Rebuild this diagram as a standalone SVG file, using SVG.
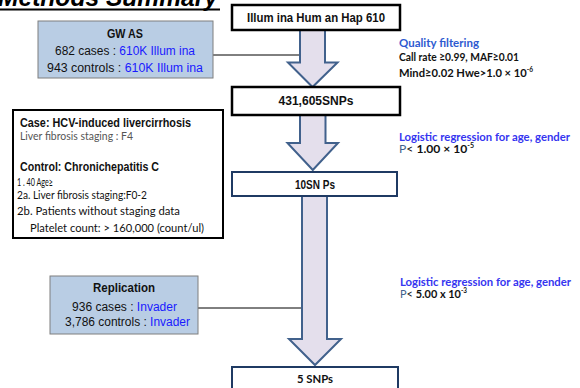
<svg xmlns="http://www.w3.org/2000/svg" width="580" height="388" viewBox="0 0 580 388">
<style>
.nar{font-family:"Liberation Sans Narrow","Liberation Sans",Arial,sans-serif;font-size:12px;fill:#111}
.b{font-weight:bold}
.cal{font-family:Lato,"Open Sans",sans-serif;font-size:12px;fill:#111}
.sup{font-size:7px}
.blue{fill:#1a1aff}
.qblue{fill:#2e5ad0}
.lblue{fill:#3535f0}
.gray{fill:#555}
.arrow{fill:#e4dfec;stroke:#41618c;stroke-width:2}
.bx{fill:#fff;stroke:#000;stroke-width:2.5}
.nbx{fill:#fff;stroke:#1f3a63;stroke-width:2}
.blu{fill:#b9cde4;stroke:#7f7f7f;stroke-width:1}
.ln{stroke:#000;stroke-width:1;fill:none}
</style>
<rect width="580" height="388" fill="#fff"/>
<g id="title">
<text x="-2" y="6" font-family="Liberation Sans,Arial,sans-serif" font-size="26" font-weight="bold" font-style="italic" fill="#000" textLength="220" lengthAdjust="spacingAndGlyphs">Methods Summary</text>
<line x1="0" y1="9.5" x2="220" y2="9.5" stroke="#000" stroke-width="2"/>
</g>
<g id="connectors">
<line class="ln" x1="213" y1="55" x2="301" y2="55"/>
<line class="ln" x1="198" y1="308" x2="302" y2="308"/>
</g>
<g id="arrow1"><path class="arrow" d="M300,30 H325 V62.5 H337.5 L312.5,87 L288,62.5 H300 Z"/></g>
<g id="arrow2"><path class="arrow" d="M300,115 H325.5 V143 H338 L312.8,170 L287.5,143 H300 Z"/></g>
<g id="arrow3"><path class="arrow" d="M302,196 H327 V339 H341 L315,365 L289,339 H302 Z"/></g>
<g id="illumina">
<rect class="bx" x="232" y="5" width="168" height="25"/>
<text class="nar b" x="316" y="22" text-anchor="middle" textLength="138" lengthAdjust="spacingAndGlyphs">Illum ina Hum an Hap 610</text>
</g>
<g id="snps431">
<rect class="bx" x="232" y="87" width="168" height="28"/>
<text class="nar b" x="316" y="105" text-anchor="middle" textLength="75" lengthAdjust="spacingAndGlyphs">431,605SNPs</text>
</g>
<g id="snps10">
<rect class="nbx" x="232" y="172" width="165" height="24"/>
<text class="nar b" x="315" y="188.5" text-anchor="middle" textLength="40" lengthAdjust="spacingAndGlyphs">10SN Ps</text>
</g>
<g id="snps5">
<rect class="nbx" x="232" y="367" width="166" height="30"/>
<text class="cal b" x="315" y="383" text-anchor="middle" textLength="36" lengthAdjust="spacingAndGlyphs">5 SNPs</text>
</g>
<g id="gwas">
<rect class="blu" x="38" y="21" width="175" height="57"/>
<text class="nar b" x="125" y="37.5" text-anchor="middle" textLength="36" lengthAdjust="spacingAndGlyphs">GW AS</text>
<text class="nar" x="55" y="54.5" textLength="140" lengthAdjust="spacingAndGlyphs">682 cases : <tspan class="blue">610K Illum ina</tspan></text>
<text class="nar" x="47" y="71.5" textLength="156" lengthAdjust="spacingAndGlyphs">943 controls : <tspan class="blue">610K Illum ina</tspan></text>
</g>
<g id="casebox">
<rect fill="#fff" stroke="#000" stroke-width="2" x="13" y="110" width="210" height="128"/>
<text class="nar b" x="20" y="127" textLength="171" lengthAdjust="spacingAndGlyphs">Case:  HCV-induced livercirrhosis</text>
<text class="cal gray" x="20" y="140" textLength="113" lengthAdjust="spacingAndGlyphs">Liver fibrosis staging : F4</text>
<text class="nar b" x="20" y="171" textLength="139" lengthAdjust="spacingAndGlyphs">Control: Chronichepatitis C</text>
<text class="cal" x="17" y="186" textLength="36" lengthAdjust="spacingAndGlyphs">1 . 40 Age≥</text>
<text class="cal" x="17" y="199" textLength="130" lengthAdjust="spacingAndGlyphs">2a. Liver fibrosis staging:F0-2</text>
<text class="cal" x="17" y="215" textLength="163" lengthAdjust="spacingAndGlyphs">2b. Patients without staging data</text>
<text class="cal" x="30" y="232" textLength="174" lengthAdjust="spacingAndGlyphs">Platelet count: &gt; 160,000 (count/ul)</text>
</g>
<g id="replication">
<rect class="blu" x="50" y="276" width="148" height="58"/>
<text class="nar b" x="124" y="292" text-anchor="middle" textLength="62" lengthAdjust="spacingAndGlyphs">Replication</text>
<text class="nar" x="72" y="311" textLength="105" lengthAdjust="spacingAndGlyphs">936 cases : <tspan class="blue">Invader</tspan></text>
<text class="nar" x="65" y="326" textLength="125" lengthAdjust="spacingAndGlyphs">3,786 controls : <tspan class="blue">Invader</tspan></text>
</g>
<g id="note1">
<text class="cal b qblue" x="399" y="47" textLength="80" lengthAdjust="spacingAndGlyphs">Quality filtering</text>
<text class="cal b" x="399" y="61" textLength="120" lengthAdjust="spacingAndGlyphs">Call rate ≥0.99, MAF≥0.01</text>
<text class="cal b" x="399" y="77" textLength="134" lengthAdjust="spacingAndGlyphs">Mind≥0.02 Hwe&gt;1.0 × 10<tspan class="sup" dy="-5">-6</tspan></text>
</g>
<g id="note2">
<text class="cal b lblue" x="399" y="141" textLength="171" lengthAdjust="spacingAndGlyphs">Logistic regression for age, gender</text>
<text class="cal" x="399" y="153" textLength="75" lengthAdjust="spacingAndGlyphs"><tspan fill="#41618c">P</tspan>&lt; <tspan font-weight="bold">1.00 × 10</tspan><tspan class="sup" font-weight="bold" dy="-5">-5</tspan></text>
</g>
<g id="note3">
<text class="cal b lblue" x="400" y="286" textLength="171" lengthAdjust="spacingAndGlyphs">Logistic regression for age, gender</text>
<text class="cal" x="400" y="298" textLength="67" lengthAdjust="spacingAndGlyphs"><tspan fill="#41618c">P</tspan>&lt; <tspan font-weight="bold">5.00 x 10</tspan><tspan class="sup" font-weight="bold" dy="-5">-3</tspan></text>
</g>
</svg>
